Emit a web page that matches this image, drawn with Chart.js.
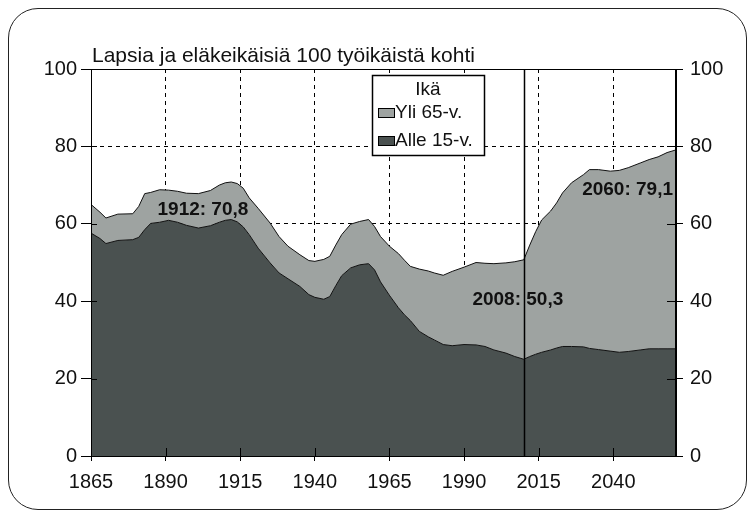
<!DOCTYPE html>
<html>
<head>
<meta charset="utf-8">
<script src="https://cdn.jsdelivr.net/npm/chart.js@4.4.1/dist/chart.umd.min.js"></script>
<style>
  html, body { margin: 0; padding: 0; background: #fff; }
  #wrap { position: relative; width: 756px; height: 515px; }
  #frame { position: absolute; left: 8px; top: 8px; width: 737px; height: 500px;
           border: 1.5px solid #222; border-radius: 30px; pointer-events: none; }
</style>
</head>
<body>
<div id="wrap">
  <canvas id="ageChart" width="756" height="515"></canvas>
  <div id="frame"></div>
</div>
<script>
// vuodet ja arvot luettu kuvasta
const years = [1865, 1868, 1870, 1874, 1879, 1881, 1883, 1885, 1888, 1891, 1894, 1897,
  1901, 1905, 1908, 1910, 1912, 1914, 1916, 1918, 1921, 1925, 1928, 1931, 1935, 1938,
  1940, 1943, 1945, 1947, 1949, 1952, 1955, 1958, 1960, 1962, 1965, 1968, 1970, 1972,
  1975, 1978, 1980, 1983, 1986, 1990, 1994, 1997, 2000, 2004, 2007, 2010, 2012, 2014,
  2016, 2019, 2021, 2023, 2026, 2030, 2032, 2035, 2039, 2042, 2045, 2049, 2052, 2055,
  2058, 2061];
const alle15 = [57.6, 56.2, 54.9, 55.7, 55.9, 56.5, 58.5, 60.1, 60.4, 60.9, 60.4, 59.6,
  58.9, 59.5, 60.4, 60.9, 61.1, 60.5, 59.2, 57.2, 53.7, 49.9, 47.3, 45.8, 43.8, 41.7,
  41.0, 40.5, 41.2, 44.0, 46.6, 48.6, 49.4, 49.7, 48.1, 45.0, 41.5, 38.3, 36.5, 35.0,
  32.2, 30.8, 30.0, 28.8, 28.5, 28.8, 28.7, 28.3, 27.4, 26.6, 25.7, 25.0, 25.7, 26.3,
  26.8, 27.4, 27.9, 28.3, 28.3, 28.2, 27.8, 27.5, 27.1, 26.8, 27.0, 27.4, 27.7, 27.7,
  27.7, 27.7];
const yli65 = [7.4, 6.8, 6.6, 6.8, 6.7, 8.0, 9.3, 8.0, 8.4, 7.8, 8.0, 8.3,
  8.9, 9.1, 9.6, 9.7, 9.7, 9.9, 10.0, 9.5, 10.3, 10.3, 9.4, 8.4, 8.2, 8.8,
  9.3, 10.3, 10.4, 10.5, 10.6, 11.3, 11.2, 11.4, 11.2, 11.7, 12.7, 14.0, 14.1, 14.0,
  16.1, 17.0, 17.3, 17.9, 19.2, 20.0, 21.3, 21.5, 22.3, 23.3, 24.5, 25.7, 28.8, 31.7,
  34.2, 35.9, 37.5, 39.7, 42.3, 44.5, 46.2, 46.5, 46.5, 47.0, 47.5, 48.3, 48.9, 49.6,
  50.7, 51.4];
const xTicks = [1865, 1890, 1915, 1940, 1965, 1990, 2015, 2040];
const yTicks = [0, 20, 40, 60, 80, 100];
const seriesNames = ['Alle 15-v.', 'Yli 65-v.'];
const legendTitle = 'Ikä';
const chartTitle = 'Lapsia ja eläkeikäisiä 100 työikäistä kohti';
const notes = ['1912: 70,8', '2008: 50,3', '2060: 79,1'];

const DARK = '#4a5150';
const LIGHT = '#9ea3a1';
const FONT = '"Liberation Sans", Arial, sans-serif';

// omat piirrot: otsikko, kehys, sisäiset tikit, pystyviiva, tekstit ja selite
const extras = {
  id: 'extras',
  afterDatasetsDraw(chart) {
    const ctx = chart.ctx;
    const a = chart.chartArea;
    const xs = chart.scales.x, ys = chart.scales.y;
    ctx.save();
    ctx.strokeStyle = '#000';
    ctx.lineWidth = 1;

    // sisään päin olevat tikit
    ctx.beginPath();
    yTicks.forEach(v => {
      const y = Math.round(ys.getPixelForValue(v)) + 0.5;
      ctx.moveTo(a.left, y); ctx.lineTo(a.left + 6, y);
      ctx.moveTo(a.right - 9, y); ctx.lineTo(a.right, y);
    });
    xTicks.forEach(v => {
      const x = Math.round(xs.getPixelForValue(v)) + 0.5;
      ctx.moveTo(x, a.bottom); ctx.lineTo(x, a.bottom - 8);
    });
    ctx.stroke();

    // kuva-alueen kehys
    ctx.strokeRect(a.left + 0.5, a.top + 0.5, a.right - a.left - 1, a.bottom - a.top);

    // pystyviiva nykyhetken kohdalla
    const xm = Math.round(xs.getPixelForValue(2010)) + 0.5;
    ctx.lineWidth = 1.5;
    ctx.beginPath();
    ctx.moveTo(xm, a.top); ctx.lineTo(xm, a.bottom);
    ctx.stroke();

    // arvotekstit
    ctx.fillStyle = '#111';
    ctx.font = 'bold 19px ' + FONT;
    ctx.textBaseline = 'middle';
    ctx.textAlign = 'center';
    ctx.fillText(notes[0], xs.getPixelForValue(1902.5), ys.getPixelForValue(63.6));
    ctx.fillText(notes[1], xs.getPixelForValue(2008), ys.getPixelForValue(40.4));
    ctx.textAlign = 'right';
    ctx.fillText(notes[2], a.right - 3, ys.getPixelForValue(68.8));

    // selite
    const lx = a.left + 281, ly = a.top + 6, lw = 112, lh = 80;
    ctx.fillStyle = '#fff';
    ctx.fillRect(lx, ly, lw, lh);
    ctx.lineWidth = 1.5;
    ctx.strokeRect(lx + 0.5, ly + 0.5, lw, lh);
    ctx.fillStyle = '#111';
    ctx.font = '19px ' + FONT;
    ctx.textAlign = 'center';
    ctx.fillText(legendTitle, lx + lw / 2, ly + 15);
    ctx.textAlign = 'left';
    const items = [[seriesNames[1], LIGHT], [seriesNames[0], DARK]];
    items.forEach((it, i) => {
      const cy = ly + 38 + i * 28;
      ctx.fillStyle = it[1];
      ctx.fillRect(lx + 6, cy - 5, 16, 9);
      ctx.lineWidth = 1;
      ctx.strokeRect(lx + 6.5, cy - 4.5, 16, 9);
      ctx.fillStyle = '#111';
      ctx.fillText(it[0], lx + 23, cy);
    });

    // otsikko
    ctx.font = '21px ' + FONT;
    ctx.textBaseline = 'alphabetic';
    ctx.textAlign = 'left';
    ctx.fillText(chartTitle, a.left + 1, 62);
    ctx.restore();
  }
};

const tickFont = { family: FONT, size: 20 };

new Chart(document.getElementById('ageChart'), {
  type: 'line',
  data: {
    datasets: [
      {
        label: seriesNames[0],
        data: years.map((y, i) => ({ x: y, y: alle15[i] })),
        backgroundColor: DARK,
        borderColor: '#111',
        borderWidth: 1,
        pointRadius: 0,
        fill: 'origin'
      },
      {
        label: seriesNames[1],
        data: years.map((y, i) => ({ x: y, y: yli65[i] })),
        backgroundColor: LIGHT,
        borderColor: '#111',
        borderWidth: 1,
        pointRadius: 0,
        fill: '-1'
      }
    ]
  },
  options: {
    responsive: false,
    animation: false,
    events: [],
    layout: { padding: { top: 69, left: 0, right: 0, bottom: 0 } },
    plugins: {
      legend: { display: false },
      tooltip: { enabled: false },
      title: { display: false }
    },
    scales: {
      x: {
        type: 'linear',
        min: 1865,
        max: 2061,
        afterBuildTicks: axis => { axis.ticks = xTicks.map(v => ({ value: v })); },
        afterFit: scale => { scale.height = 59; },
        grid: { color: '#000', lineWidth: 1, tickLength: 5, tickColor: '#000' },
        border: { color: '#000', dash: [4, 4] },
        ticks: { color: '#111', font: tickFont, padding: 9, maxRotation: 0, autoSkip: false,
                 callback: v => String(v) }
      },
      y: {
        stacked: true,
        min: 0,
        max: 100,
        afterBuildTicks: axis => { axis.ticks = yTicks.map(v => ({ value: v })); },
        afterFit: scale => { scale.width = 91; },
        grid: { color: '#000', lineWidth: 1, tickLength: 10, tickColor: '#000' },
        border: { color: '#000', dash: [4, 4] },
        ticks: { color: '#111', font: tickFont, padding: 4 }
      },
      y2: {
        position: 'right',
        min: 0,
        max: 100,
        afterBuildTicks: axis => { axis.ticks = yTicks.map(v => ({ value: v })); },
        afterFit: scale => { scale.width = 80; },
        grid: { drawOnChartArea: false, tickLength: 7, tickColor: '#000', color: '#000' },
        border: { color: '#000' },
        ticks: { color: '#111', font: tickFont, padding: 7 }
      }
    }
  },
  plugins: [extras]
});
</script>
</body>
</html>
